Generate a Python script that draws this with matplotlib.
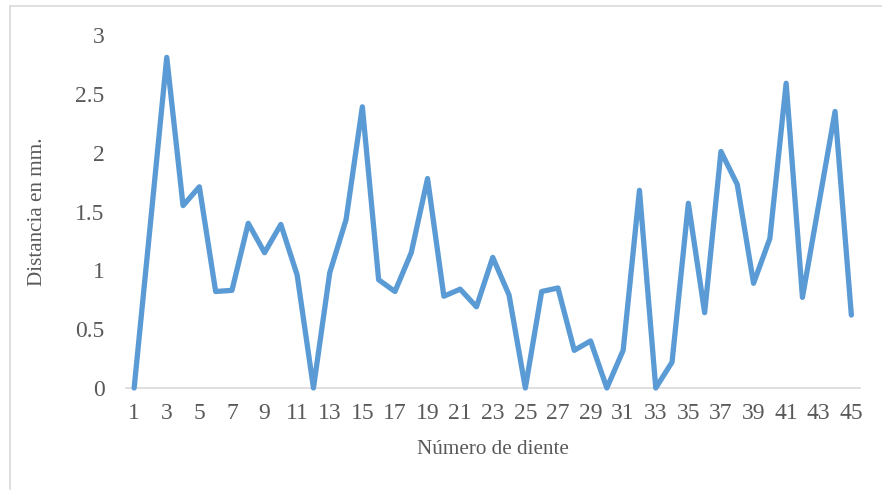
import matplotlib
matplotlib.use("Agg")
import matplotlib.pyplot as plt
from matplotlib.lines import Line2D

# Tooth number and measured distance (mm)
dientes = list(range(1, 46))
distancia = [
    0.00, 1.40, 2.81, 1.55, 1.71, 0.82, 0.83, 1.40, 1.15, 1.39,
    0.96, 0.00, 0.98, 1.43, 2.39, 0.92, 0.82, 1.15, 1.78, 0.78,
    0.84, 0.69, 1.11, 0.79, 0.00, 0.82, 0.85, 0.32, 0.40, 0.00,
    0.32, 1.68, 0.00, 0.22, 1.57, 0.64, 2.01, 1.73, 0.89, 1.27,
    2.59, 0.77, 1.56, 2.35, 0.62,
]
y_ticks = [0, 0.5, 1, 1.5, 2, 2.5, 3]
y_tick_labels = ["0", "0.5", "1", "1.5", "2", "2.5", "3"]
x_tick_values = list(range(1, 46, 2))

plt.rcParams["font.family"] = ["Liberation Serif", "DejaVu Serif"]
text_color = "#595959"

fig = plt.figure(figsize=(8.82, 4.90), dpi=100)
ax = fig.add_axes([126 / 882, 1 - 388 / 490, (859.5 - 126) / 882, (388 - 35) / 490])

ax.plot(dientes, distancia, color="#5B9BD5", linewidth=3.8,
        solid_joinstyle="round", solid_capstyle="round", clip_on=False, zorder=3)

ax.set_xlim(0.5, 45.5)
ax.set_ylim(0, 3)
ax.set_yticks(y_ticks)
ax.set_yticklabels(y_tick_labels)
ax.set_xticks(x_tick_values)
ax.set_xticklabels([str(v) for v in x_tick_values])

for side in ("top", "right", "left"):
    ax.spines[side].set_visible(False)
ax.spines["bottom"].set_color("#D9D9D9")
ax.spines["bottom"].set_linewidth(1.2)
ax.spines["bottom"].set_zorder(1)

ax.tick_params(axis="both", length=0, labelsize=17, labelcolor=text_color)
ax.tick_params(axis="y", pad=15.5)
ax.tick_params(axis="x", pad=11)

ax.set_xlabel("Número de diente", fontsize=15.2, color=text_color, labelpad=11)
ax.set_ylabel("Distancia en mm.", fontsize=15.2, color=text_color, labelpad=20)

# chart-area frame (left and top edges)
fig.add_artist(Line2D([9.5 / 882, 9.5 / 882], [0, 1 - 6 / 490],
                      transform=fig.transFigure, color="#D9D9D9", linewidth=1.2))
fig.add_artist(Line2D([9.5 / 882, 1], [1 - 6 / 490, 1 - 6 / 490],
                      transform=fig.transFigure, color="#D9D9D9", linewidth=1.2))

fig.savefig("out.png", dpi=100, facecolor="white")
